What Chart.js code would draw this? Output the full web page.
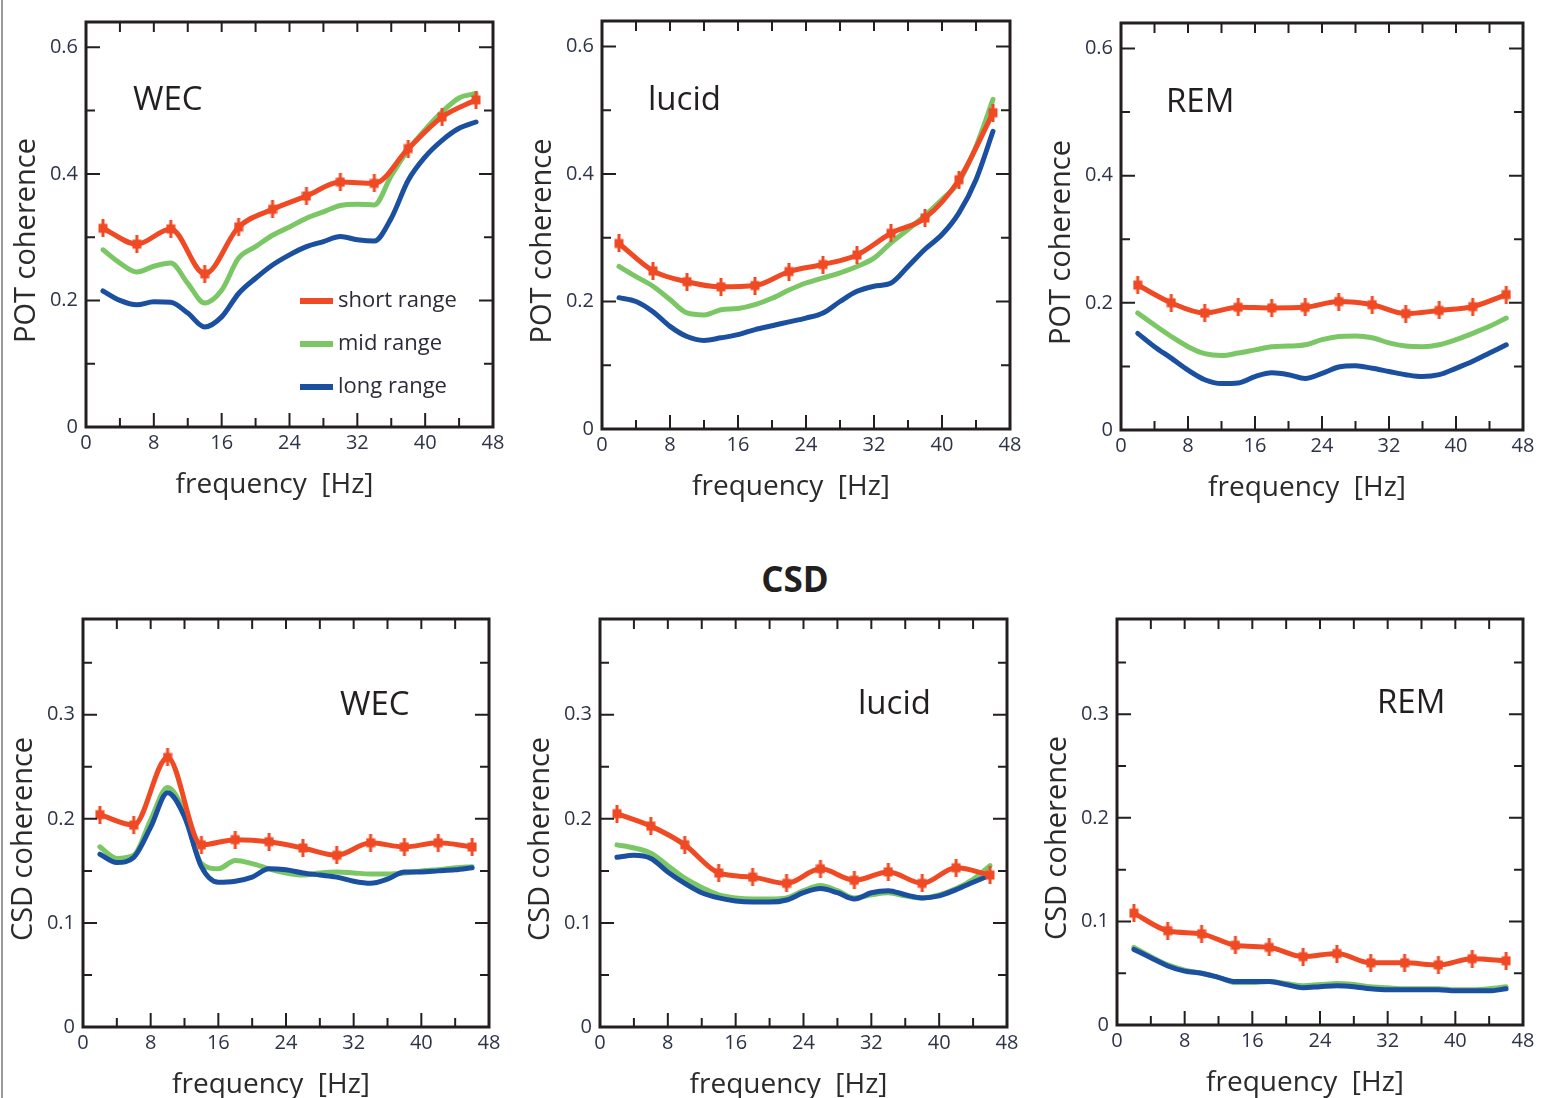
<!DOCTYPE html>
<html><head><meta charset="utf-8">
<script src="https://cdn.jsdelivr.net/npm/chart.js@4.4.1/dist/chart.umd.min.js"></script>
<style>
html,body{margin:0;padding:0;background:#fff;overflow:hidden;width:1541px;height:1098px;position:relative;}
canvas{position:absolute;}
#csd{position:absolute;left:695px;width:200px;top:561px;text-align:center;font:bold 35px/35px "Open Sans";color:#231f20;}
#edge{position:absolute;left:1px;top:0;width:2px;height:1098px;background:#9a9a9a;}
</style></head><body>
<div id="edge"></div>
<div id="csd">CSD</div>
<script>
// ---------- data ----------
const seriesNames = ['short range', 'mid range', 'long range'];
const freqMarkers = [2, 6, 10, 14, 18, 22, 26, 30, 34, 38, 42, 46];
const freqFine = [2, 4, 6, 8, 10, 12, 14, 16, 18, 20, 22, 24, 26, 28, 30, 32, 34, 36, 38, 40, 42, 44, 46];

const xTickLabels = [0, 8, 16, 24, 32, 40, 48];
const xTickMarks = [4, 8, 12, 16, 20, 24, 28, 32, 36, 40, 44];
const potYTickLabels = [0, 0.2, 0.4, 0.6];
const potYTickMarks = [0.1, 0.2, 0.3, 0.4, 0.5, 0.6];
const csdYTickLabels = [0, 0.1, 0.2, 0.3];
const csdYTickMarks = [0.05, 0.1, 0.15, 0.2, 0.25, 0.3, 0.35];

// POT coherence – WEC
const potWecShort = [0.314, 0.289, 0.313, 0.242, 0.316, 0.344, 0.365, 0.387, 0.385, 0.440, 0.490, 0.517];
const potWecMid   = [0.280, 0.259, 0.245, 0.254, 0.259, 0.227, 0.196, 0.216, 0.267, 0.285, 0.303, 0.316, 0.330, 0.340, 0.350, 0.352, 0.351, 0.397, 0.438, 0.470, 0.498, 0.520, 0.527];
const potWecLong  = [0.215, 0.200, 0.193, 0.198, 0.197, 0.180, 0.158, 0.174, 0.211, 0.235, 0.256, 0.272, 0.285, 0.293, 0.301, 0.296, 0.294, 0.330, 0.390, 0.427, 0.453, 0.472, 0.482];
// POT coherence – lucid
const potLucShort = [0.291, 0.248, 0.231, 0.223, 0.225, 0.247, 0.258, 0.273, 0.307, 0.331, 0.391, 0.496];
const potLucMid   = [0.255, 0.239, 0.224, 0.203, 0.182, 0.179, 0.187, 0.189, 0.195, 0.205, 0.218, 0.229, 0.237, 0.245, 0.255, 0.268, 0.292, 0.313, 0.335, 0.360, 0.388, 0.443, 0.517];
const potLucLong  = [0.206, 0.200, 0.184, 0.161, 0.145, 0.139, 0.143, 0.148, 0.156, 0.162, 0.168, 0.174, 0.182, 0.200, 0.216, 0.224, 0.229, 0.255, 0.282, 0.305, 0.339, 0.391, 0.467];
// POT coherence – REM
const potRemShort = [0.228, 0.200, 0.184, 0.193, 0.192, 0.193, 0.202, 0.197, 0.183, 0.188, 0.194, 0.213];
const potRemMid   = [0.184, 0.165, 0.147, 0.131, 0.120, 0.117, 0.121, 0.126, 0.131, 0.132, 0.134, 0.142, 0.147, 0.148, 0.145, 0.137, 0.132, 0.131, 0.134, 0.142, 0.152, 0.163, 0.176];
const potRemLong  = [0.152, 0.131, 0.113, 0.094, 0.079, 0.073, 0.074, 0.084, 0.090, 0.087, 0.081, 0.089, 0.099, 0.101, 0.097, 0.092, 0.087, 0.084, 0.087, 0.097, 0.108, 0.121, 0.134];
// CSD coherence – WEC
const csdWecShort = [0.204, 0.194, 0.259, 0.175, 0.180, 0.178, 0.172, 0.165, 0.177, 0.173, 0.177, 0.173];
const csdWecMid   = [0.173, 0.162, 0.165, 0.199, 0.230, 0.206, 0.157, 0.152, 0.160, 0.157, 0.152, 0.148, 0.146, 0.148, 0.149, 0.148, 0.147, 0.147, 0.148, 0.150, 0.151, 0.153, 0.154];
const csdWecLong  = [0.166, 0.158, 0.163, 0.192, 0.225, 0.202, 0.154, 0.139, 0.140, 0.144, 0.152, 0.151, 0.148, 0.146, 0.144, 0.140, 0.138, 0.142, 0.149, 0.149, 0.150, 0.151, 0.153];
// CSD coherence – lucid
const csdLucShort = [0.205, 0.193, 0.175, 0.148, 0.144, 0.138, 0.152, 0.141, 0.149, 0.138, 0.153, 0.146];
const csdLucMid   = [0.175, 0.172, 0.167, 0.155, 0.143, 0.134, 0.127, 0.124, 0.123, 0.123, 0.124, 0.131, 0.136, 0.131, 0.124, 0.127, 0.129, 0.126, 0.124, 0.127, 0.133, 0.142, 0.155];
const csdLucLong  = [0.163, 0.165, 0.162, 0.149, 0.138, 0.129, 0.124, 0.121, 0.120, 0.120, 0.122, 0.129, 0.133, 0.129, 0.123, 0.129, 0.131, 0.127, 0.124, 0.126, 0.132, 0.139, 0.146];
// CSD coherence – REM
const csdRemShort = [0.108, 0.091, 0.088, 0.077, 0.075, 0.066, 0.069, 0.060, 0.060, 0.058, 0.064, 0.062];
const csdRemMid   = [0.075, 0.066, 0.058, 0.053, 0.050, 0.046, 0.041, 0.041, 0.042, 0.040, 0.038, 0.039, 0.040, 0.039, 0.037, 0.036, 0.035, 0.035, 0.035, 0.034, 0.034, 0.035, 0.037];
const csdRemLong  = [0.073, 0.065, 0.057, 0.052, 0.050, 0.046, 0.042, 0.042, 0.042, 0.039, 0.036, 0.037, 0.038, 0.037, 0.035, 0.034, 0.034, 0.034, 0.034, 0.033, 0.033, 0.033, 0.035];

// ---------- styling ----------
const COLORS = { short: '#ef4a24', mid: '#7cc765', long: '#1b4f9f' };
const FONT = '"Open Sans", "Noto Sans", sans-serif';
const INK = '#231f20';
const LABEL_INK = '#2e3448';

// red marker: small square with a short vertical error bar
const marker = document.createElement('canvas');
marker.width = 10; marker.height = 18;
(function () {
  const c = marker.getContext('2d');
  c.fillStyle = COLORS.short;
  c.fillRect(0.5, 4.5, 9, 9);
  c.fillRect(3.5, 0, 3, 18);
})();

const panels = [
  { box: [86, 22, 493, 427], yMax: 0.64, yLab: potYTickLabels, yMarks: potYTickMarks, yTitle: 'POT coherence',
    s: potWecShort, m: potWecMid, l: potWecLong, label: 'WEC', ldx: 47, ldy: 88, legend: true },
  { box: [602, 21, 1010, 429], yMax: 0.64, yLab: potYTickLabels, yMarks: potYTickMarks, yTitle: 'POT coherence',
    s: potLucShort, m: potLucMid, l: potLucLong, label: 'lucid', ldx: 46, ldy: 89 },
  { box: [1121, 23, 1523, 430], yMax: 0.64, yLab: potYTickLabels, yMarks: potYTickMarks, yTitle: 'POT coherence',
    s: potRemShort, m: potRemMid, l: potRemLong, label: 'REM', ldx: 45, ldy: 89 },
  { box: [83, 619, 489, 1027], yMax: 0.392, yLab: csdYTickLabels, yMarks: csdYTickMarks, yTitle: 'CSD coherence',
    s: csdWecShort, m: csdWecMid, l: csdWecLong, label: 'WEC', ldx: 257, ldy: 96 },
  { box: [600, 619, 1007, 1027], yMax: 0.392, yLab: csdYTickLabels, yMarks: csdYTickMarks, yTitle: 'CSD coherence',
    s: csdLucShort, m: csdLucMid, l: csdLucLong, label: 'lucid', ldx: 258, ldy: 95 },
  { box: [1117, 619, 1523, 1025], yMax: 0.392, yLab: csdYTickLabels, yMarks: csdYTickMarks, yTitle: 'CSD coherence',
    s: csdRemShort, m: csdRemMid, l: csdRemLong, label: 'REM', ldx: 260, ldy: 94 }
];

const LEFT = 86, TOP = 22, RIGHT = 20, BOTTOM = 93;

const deco = {
  id: 'deco',
  afterDraw(chart, args, o) {
    const { ctx, chartArea: a, scales: { x, y } } = chart;
    const near = (arr, v) => arr.some(m => Math.abs(m - v) < 1e-9);
    ctx.save();
    ctx.strokeStyle = INK; ctx.lineWidth = 2;
    ctx.beginPath();
    o.xMarks.forEach(v => {
      const px = x.getPixelForValue(v);
      const maj = near(o.xMajor, v);
      ctx.moveTo(px, a.bottom); ctx.lineTo(px, a.bottom - (maj ? 14 : 9));
      ctx.moveTo(px, a.top); ctx.lineTo(px, a.top + 10);
    });
    o.yMarks.forEach(v => {
      const py = y.getPixelForValue(v);
      const maj = near(o.yMajor, v);
      ctx.moveTo(a.left, py); ctx.lineTo(a.left + (maj ? 14 : 9), py);
      ctx.moveTo(a.right, py); ctx.lineTo(a.right - (maj ? 14 : 9), py);
    });
    ctx.stroke();
    ctx.lineWidth = 3;
    ctx.strokeRect(a.left, a.top, a.right - a.left, a.bottom - a.top);

    // axis titles
    ctx.fillStyle = '#2b2b2b';
    ctx.font = '28px ' + FONT;
    ctx.textAlign = 'center'; ctx.textBaseline = 'alphabetic';
    ctx.fillText(o.xTitle, (a.left + a.right) / 2 - 15, a.bottom + 66);
    ctx.save();
    ctx.translate(a.left - 59, (a.top + a.bottom) / 2 + 16);
    ctx.rotate(-Math.PI / 2);
    ctx.textBaseline = 'middle';
    ctx.font = '29px ' + FONT;
    ctx.fillText(o.yTitle, 0, 0);
    ctx.restore();

    // panel label
    ctx.fillStyle = INK;
    ctx.font = '33px ' + FONT;
    ctx.textAlign = 'left'; ctx.textBaseline = 'alphabetic';
    ctx.fillText(o.label, a.left + o.ldx, a.top + o.ldy);

    // legend
    if (o.legend) {
      ctx.font = '22px ' + FONT;
      o.legendOrder.forEach((name, i) => {
        const ds = chart.data.datasets.find(d => d.label === name);
        const yy = a.top + 279 + i * 43;
        ctx.strokeStyle = ds.borderColor; ctx.lineWidth = 6;
        ctx.beginPath(); ctx.moveTo(a.left + 214, yy); ctx.lineTo(a.left + 247, yy); ctx.stroke();
        ctx.fillStyle = '#2e2a3a';
        ctx.fillText(name, a.left + 252, yy + 6);
      });
    }
    ctx.restore();
  }
};

function pts(xs, ys) { return xs.map((v, i) => ({ x: v, y: ys[i] })); }

panels.forEach(p => {
  const [bl, bt, br, bb] = p.box;
  const cv = document.createElement('canvas');
  const w = (br - bl) + LEFT + RIGHT, h = (bb - bt) + TOP + BOTTOM;
  cv.width = w; cv.height = h;
  cv.style.left = (bl - LEFT) + 'px'; cv.style.top = (bt - TOP) + 'px';
  cv.style.width = w + 'px'; cv.style.height = h + 'px';
  document.body.appendChild(cv);

  const common = { fill: false, borderWidth: 5, cubicInterpolationMode: 'monotone', borderCapStyle: 'round', borderJoinStyle: 'round' };
  new Chart(cv.getContext('2d'), {
    type: 'line',
    data: {
      datasets: [
        Object.assign({ label: seriesNames[0], data: pts(freqMarkers, p.s), borderColor: COLORS.short,
          pointStyle: marker, pointRadius: 5, pointHoverRadius: 5 }, common),
        Object.assign({ label: seriesNames[2], data: pts(freqFine, p.l), borderColor: COLORS.long, pointRadius: 0 }, common),
        Object.assign({ label: seriesNames[1], data: pts(freqFine, p.m), borderColor: COLORS.mid, pointRadius: 0 }, common)
      ]
    },
    options: {
      responsive: false, animation: false, devicePixelRatio: 1,
      layout: { padding: { left: 0, top: TOP, right: RIGHT, bottom: 0 } },
      plugins: {
        legend: { display: false }, tooltip: { enabled: false },
        deco: { xMarks: xTickMarks, xMajor: xTickLabels, yMarks: p.yMarks, yMajor: p.yLab,
                xTitle: 'frequency  [Hz]', yTitle: p.yTitle, label: p.label, ldx: p.ldx, ldy: p.ldy,
                legend: !!p.legend, legendOrder: seriesNames }
      },
      scales: {
        x: {
          type: 'linear', min: 0, max: 48,
          grid: { display: false, drawTicks: false }, border: { display: false },
          afterBuildTicks: s => { s.ticks = xTickLabels.map(v => ({ value: v })); },
          afterFit: s => { s.height = BOTTOM; },
          ticks: { padding: 4, autoSkip: false, maxRotation: 0, color: LABEL_INK,
                   font: { family: FONT, size: 20 }, callback: v => String(v) }
        },
        y: {
          type: 'linear', min: 0, max: p.yMax,
          grid: { display: false, drawTicks: false }, border: { display: false },
          afterBuildTicks: s => { s.ticks = p.yLab.map(v => ({ value: v })); },
          afterFit: s => { s.width = LEFT; },
          ticks: { padding: 8, color: LABEL_INK, font: { family: FONT, size: 20 }, callback: v => String(v) }
        }
      }
    },
    plugins: [deco]
  });
});
</script>
</body></html>
